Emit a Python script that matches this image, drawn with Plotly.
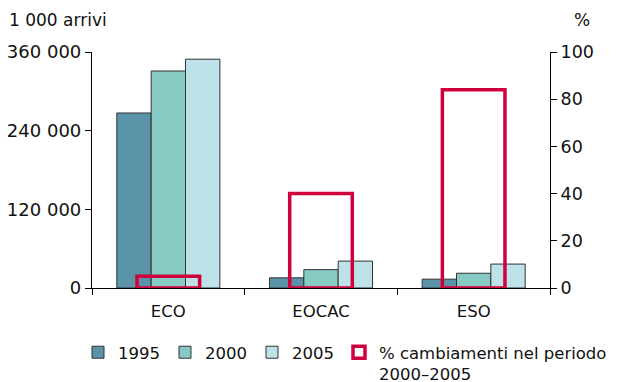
import plotly.graph_objects as go

# Tourist arrivals by region (thousands) and % change 2000-2005
regions = ["ECO", "EOCAC", "ESO"]
years = ["1995", "2000", "2005"]
arrivals_1995 = [267000, 15500, 13500]
arrivals_2000 = [331000, 28000, 22500]
arrivals_2005 = [349000, 41000, 36500]
pct_change = [5, 40, 84]

left_ticks = [0, 120000, 240000, 360000]
right_ticks = [0, 20, 40, 60, 80, 100]

year_colors = ["#5b93a8", "#85cbc4", "#bde2ea"]
red = "#d0003c"
font_family = "DejaVu Sans, Verdana, sans-serif"

bar_w = 0.225
group_start = -0.3375

# plot-area geometry (pixels)
L, R, T, B = 92, 67, 52, 94
W, H = 617, 382
plot_w = W - L - R
plot_h = H - T - B

fig = go.Figure()
for i, (yr, vals) in enumerate(zip(years, [arrivals_1995, arrivals_2000, arrivals_2005])):
    fig.add_trace(go.Bar(
        x=regions, y=vals, name=yr,
        width=bar_w, offset=group_start + i * bar_w,
        marker=dict(color=year_colors[i], line=dict(color="#333333", width=1)),
        yaxis="y",
    ))

fig.add_trace(go.Bar(
    x=regions, y=pct_change, name="% cambiamenti nel periodo<br>2000–2005",
    width=0.41, offset=-0.205,
    marker=dict(color="rgba(0,0,0,0)", line=dict(color=red, width=3.5)),
    yaxis="y2",
))

fig.update_layout(
    width=W, height=H,
    margin=dict(l=L, r=R, t=T, b=B, autoexpand=False),
    plot_bgcolor="white", paper_bgcolor="white",
    barmode="overlay",
    separators=", ",
    font=dict(family=font_family, size=17, color="#111111"),
    showlegend=True,
    legend=dict(
        orientation="h",
        x=(78 - L) / plot_w, xanchor="left",
        y=-(335 - (T + plot_h)) / plot_h, yanchor="top",
        font=dict(size=16.5), traceorder="normal", valign="top",
        itemwidth=30, tracegroupgap=0, bgcolor="rgba(0,0,0,0)",
    ),
    xaxis=dict(
        range=[-0.5, 2.5], showline=True, linecolor="black", linewidth=1.2,
        ticks="outside", tickson="boundaries", ticklen=6, tickcolor="black",
        tickfont=dict(size=16.5), showgrid=False, zeroline=False,
        ticklabelstandoff=8,
    ),
    yaxis=dict(
        range=[0, 360000], tickvals=left_ticks, tickformat=",d",
        showline=True, linecolor="black", linewidth=1.2,
        ticks="outside", ticklen=6, tickcolor="black",
        showgrid=False, zeroline=False, tickfont=dict(size=18),
    ),
    yaxis2=dict(
        range=[0, 100], tickvals=right_ticks, overlaying="y", side="right",
        showline=True, linecolor="black", linewidth=1.2,
        ticks="outside", ticklen=6, tickcolor="black",
        showgrid=False, zeroline=False, tickfont=dict(size=17.5),
    ),
    annotations=[
        dict(text="1 000 arrivi", xref="paper", yref="paper", x=(7 - L) / plot_w, y=1.0,
             yshift=32, xanchor="left", yanchor="middle", showarrow=False,
             font=dict(size=17)),
        dict(text="%", xref="paper", yref="paper", x=(582 - L) / plot_w, y=1.0,
             yshift=32, xanchor="center", yanchor="middle", showarrow=False,
             font=dict(size=17)),
    ],
)

fig.write_html("out.html")
